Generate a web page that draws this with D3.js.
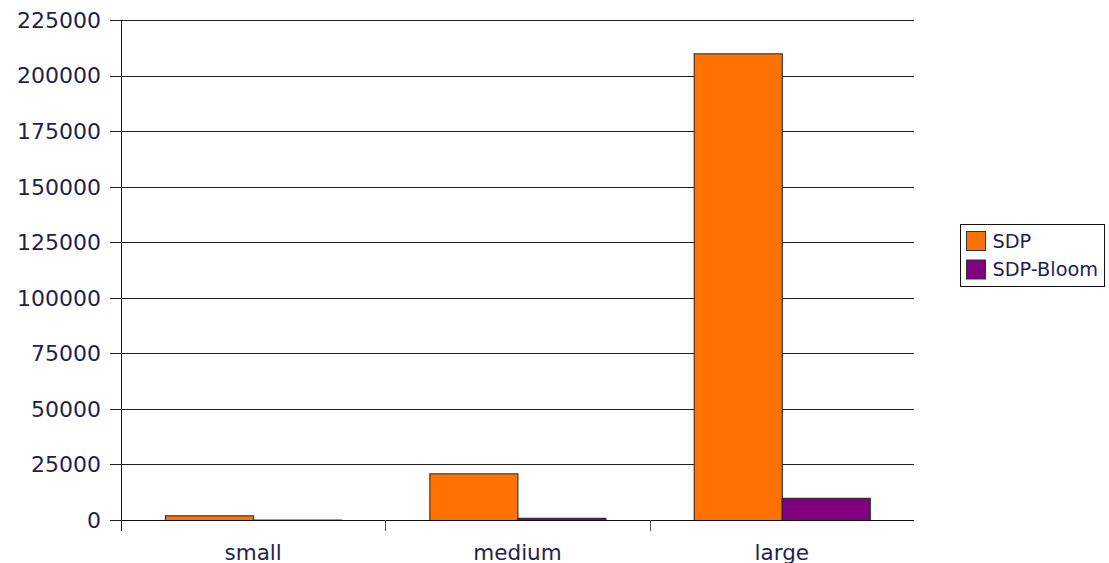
<!DOCTYPE html>
<html>
<head>
<meta charset="utf-8">
<script src="https://cdn.jsdelivr.net/npm/d3@7"></script>
<style>
  html, body { margin: 0; padding: 0; background: #fff; }
  svg { display: block; }
</style>
</head>
<body>
<svg id="chart" width="1109" height="563"></svg>
<script>
const categories = ["small", "medium", "large"];
const seriesNames = ["SDP", "SDP-Bloom"];
const sdpValues = [2100, 21000, 210000];
const bloomValues = [200, 1000, 10000];
const yTicks = [0, 25000, 50000, 75000, 100000, 125000, 150000, 175000, 200000, 225000];
const colors = ["#ff7100", "#800080"];

(function () {
const seriesValues = [sdpValues, bloomValues];
const textColor = "#1f1f4d";
const fontFam = "'DejaVu Sans', sans-serif";

const svg = d3.select("#chart");
const mLeft = 121, mRight = 914, mTop = 20, mBottom = 520;

const x = d3.scaleBand().domain(categories).range([mLeft, mRight]).padding(0);
const xs = d3.scaleBand().domain(seriesNames).range([0, x.bandwidth()]).paddingInner(0).paddingOuter(0.5);
const y = d3.scaleLinear().domain([0, 225000]).range([mBottom, mTop]);

// grid lines
svg.append("g").selectAll("line").data(yTicks).join("line")
  .attr("x1", mLeft - 11).attr("x2", mRight)
  .attr("y1", d => Math.round(y(d)) + 0.5).attr("y2", d => Math.round(y(d)) + 0.5)
  .attr("stroke", "#222").attr("stroke-width", 1);

// y labels
svg.append("g").selectAll("text").data(yTicks).join("text")
  .attr("x", 101).attr("y", d => y(d))
  .attr("dy", "0.36em")
  .attr("text-anchor", "end")
  .attr("font-family", fontFam).attr("font-size", 22)
  .attr("fill", textColor)
  .text(d => d);

// bars
const groups = svg.append("g").selectAll("g").data(categories).join("g")
  .attr("transform", d => `translate(${x(d)},0)`);
groups.selectAll("rect").data((c, i) => seriesNames.map((s, j) => ({s, j, v: seriesValues[j][i]}))).join("rect")
  .attr("x", d => Math.round(xs(d.s)) + 0.5)
  .attr("width", xs.bandwidth())
  .attr("y", d => y(d.v) + 0.5)
  .attr("height", d => Math.max(0, mBottom - y(d.v)))
  .attr("fill", d => colors[d.j])
  .attr("stroke", "#222").attr("stroke-width", 1);

// x axis line
svg.append("line").attr("x1", mLeft).attr("x2", mRight)
  .attr("y1", mBottom + 0.5).attr("y2", mBottom + 0.5)
  .attr("stroke", "#111").attr("stroke-width", 1);
// y axis line
svg.append("line").attr("x1", mLeft + 0.5).attr("x2", mLeft + 0.5)
  .attr("y1", mTop).attr("y2", mBottom + 11)
  .attr("stroke", "#111").attr("stroke-width", 1);
// category ticks
svg.append("g").selectAll("line").data(categories.slice(1)).join("line")
  .attr("x1", d => Math.round(x(d)) + 0.5).attr("x2", d => Math.round(x(d)) + 0.5)
  .attr("y1", mBottom).attr("y2", mBottom + 11)
  .attr("stroke", "#555").attr("stroke-width", 1);

// category labels
svg.append("g").selectAll("text").data(categories).join("text")
  .attr("x", d => x(d) + x.bandwidth() / 2)
  .attr("y", 560)
  .attr("text-anchor", "middle")
  .attr("font-family", fontFam).attr("font-size", 21.5)
  .attr("fill", textColor)
  .text(d => d);

// legend
const lg = svg.append("g");
lg.append("rect").attr("x", 960.5).attr("y", 224.5).attr("width", 144).attr("height", 62)
  .attr("fill", "#fff").attr("stroke", "#111").attr("stroke-width", 1);
const items = lg.selectAll("g").data(seriesNames).join("g")
  .attr("transform", (d, i) => `translate(0,${i * 28.5})`);
items.append("rect").attr("x", 966.5).attr("y", 231.5).attr("width", 19).attr("height", 19)
  .attr("fill", (d, i) => colors[i]).attr("stroke", "#333").attr("stroke-width", 1);
items.append("text").attr("x", 992.5).attr("y", 241).attr("dy", "0.36em")
  .attr("font-family", fontFam).attr("font-size", 19.3)
  .attr("fill", textColor)
  .text(d => d);
})();
</script>
</body>
</html>
